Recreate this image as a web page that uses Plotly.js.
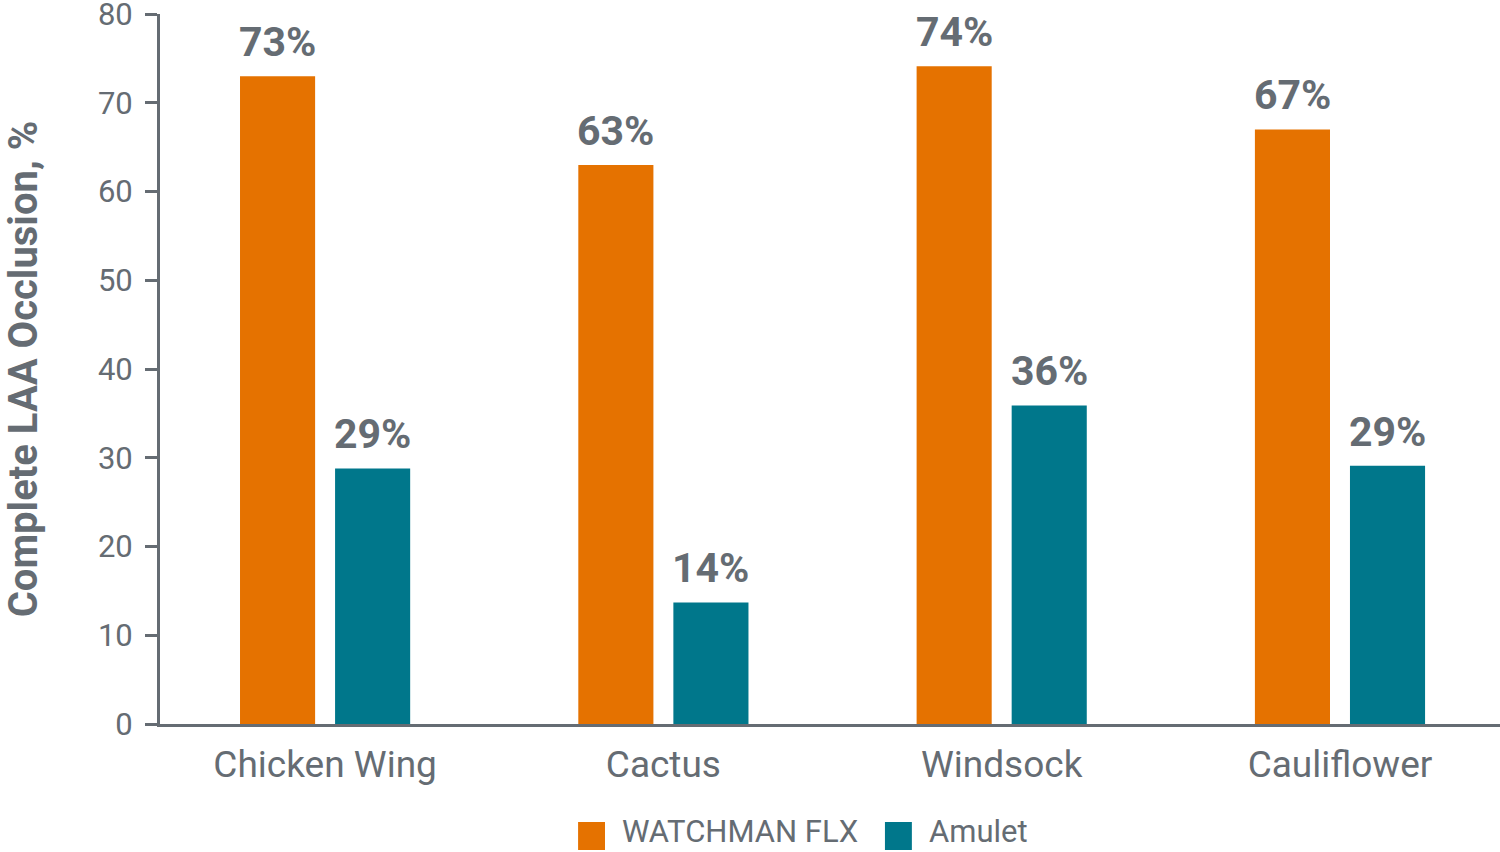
<!DOCTYPE html>
<html>
<head>
<meta charset="utf-8">
<script src="https://cdn.plot.ly/plotly-3.0.1.min.js"></script>
<style>html,body{margin:0;padding:0;background:#fff;}#chart{width:1500px;height:852px;}</style>
</head>
<body>
<div id="chart"></div>
<script>
var categories = ["Chicken Wing", "Cactus", "Windsock", "Cauliflower"];
var seriesNames = ["WATCHMAN FLX", "Amulet"];
var watchmanValues = [73.0, 63.0, 74.1, 67.0];
var amuletValues = [28.8, 13.7, 35.9, 29.1];
var watchmanLabels = ["73%", "63%", "74%", "67%"];
var amuletLabels = ["29%", "14%", "36%", "29%"];
var yTickVals = [0, 10, 20, 30, 40, 50, 60, 70, 80];
var yTitle = "Complete LAA Occlusion, %";

var ORANGE = "#E57200", TEAL = "#00778B", GRAY = "#656C73";
var FONT = "Roboto, 'Open Sans', sans-serif";

var traces = [
  {type: "bar", name: seriesNames[0], x: categories, y: watchmanValues, marker: {color: ORANGE}, showlegend: false, hoverinfo: "none"},
  {type: "bar", name: seriesNames[1], x: categories, y: amuletValues, marker: {color: TEAL}, showlegend: false, hoverinfo: "none"}
];

var annotations = [];
var seriesVals = [watchmanValues, amuletValues];
var seriesLabs = [watchmanLabels, amuletLabels];
var shifts = [-47.5, 47.5];
for (var s = 0; s < 2; s++) {
  for (var i = 0; i < categories.length; i++) {
    annotations.push({
      x: categories[i], y: seriesVals[s][i], xref: "x", yref: "y",
      xshift: shifts[s], yshift: 8, yanchor: "bottom", xanchor: "center",
      text: "<b>" + seriesLabs[s][i] + "</b>", showarrow: false,
      font: {family: FONT, size: 41, color: GRAY}
    });
  }
}
// legend (drawn manually to match large square swatches)
var legendColors = [ORANGE, TEAL];
var legendSwatchX = [0.312, 0.541];
var shapes = [];
for (var k = 0; k < 2; k++) {
  shapes.push({type: "rect", xref: "paper", yref: "paper",
    x0: legendSwatchX[k], x1: legendSwatchX[k] + 0.0201, y0: -0.1775, y1: -0.138,
    fillcolor: legendColors[k], line: {width: 0}});
  annotations.push({xref: "paper", yref: "paper", x: legendSwatchX[k] + 0.0313, y: -0.1515,
    xanchor: "left", yanchor: "middle", text: seriesNames[k], showarrow: false,
    font: {family: FONT, size: 31, color: GRAY}});
}

var layout = {
  width: 1500, height: 852,
  margin: {l: 160, r: 0, t: 14, b: 128},
  paper_bgcolor: "#fff", plot_bgcolor: "#fff",
  barmode: "group", bargap: 0.438, bargroupgap: 0.21,
  font: {family: FONT, color: GRAY},
  xaxis: {
    type: "category", range: [-0.488, 3.473], showline: true, linecolor: GRAY, linewidth: 3,
    ticks: "", showgrid: false, zeroline: false, fixedrange: true,
    tickfont: {family: FONT, size: 37, color: GRAY}, ticklabelstandoff: 6
  },
  yaxis: {
    range: [0, 80], tickvals: yTickVals, showline: true, linecolor: GRAY, linewidth: 3,
    ticks: "outside", ticklen: 12, tickwidth: 3, tickcolor: GRAY, showgrid: false, zeroline: false,
    tickfont: {family: FONT, size: 31, color: GRAY}, ticklabelstandoff: 6, ticklabeloverflow: "allow",
    title: {text: "<b>" + yTitle + "</b>", font: {family: FONT, size: 40, color: GRAY}, standoff: 58},
    automargin: false
  },
  annotations: annotations, shapes: shapes, showlegend: false
};
Plotly.newPlot("chart", traces, layout, {staticPlot: true});
</script>
</body>
</html>
